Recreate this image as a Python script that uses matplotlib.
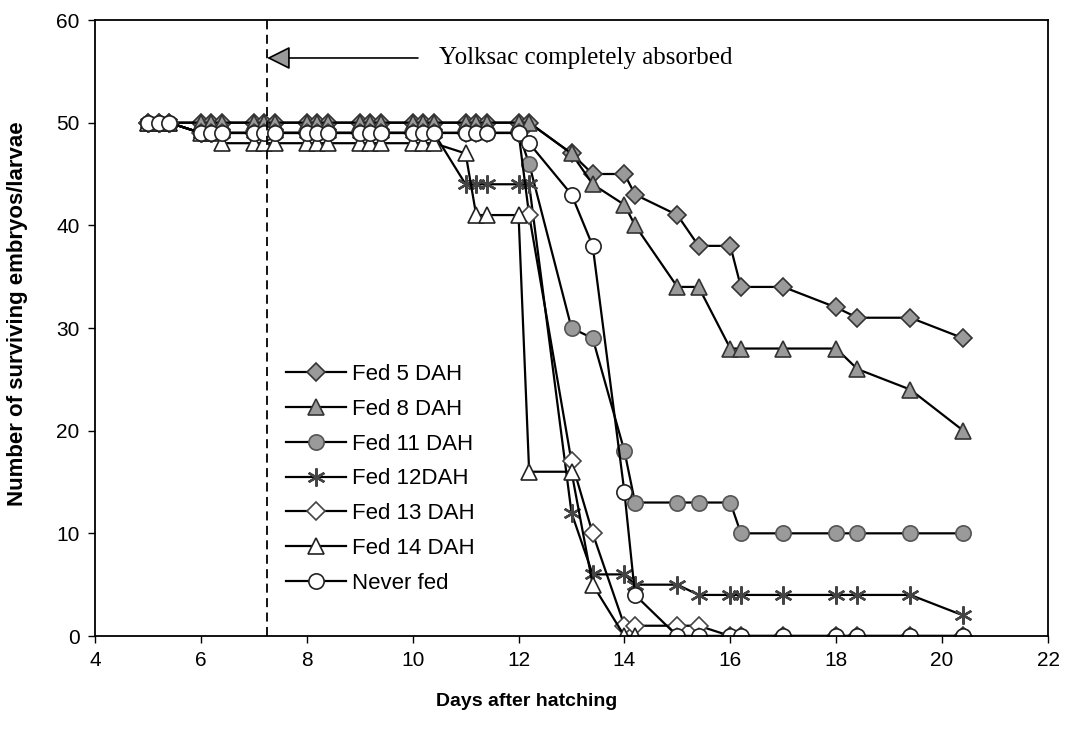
import matplotlib
matplotlib.use("Agg")
import matplotlib.pyplot as plt

# days after hatching (shared sampling days)
days = [5, 5.2, 5.4, 6, 6.2, 6.4, 7, 7.2, 7.4, 8, 8.2, 8.4, 9, 9.2, 9.4,
        10, 10.2, 10.4, 11, 11.2, 11.4, 12, 12.2, 13, 13.4, 14, 14.2,
        15, 15.4, 16, 16.2, 17, 18, 18.4, 19.4, 20.4]

fed5 = [50, 50, 50, 50, 50, 50, 50, 50, 50, 50, 50, 50, 50, 50, 50,
        50, 50, 50, 50, 50, 50, 50, 50, 47, 45, 45, 43,
        41, 38, 38, 34, 34, 32, 31, 31, 29]
fed8 = [50, 50, 50, 50, 50, 50, 50, 50, 50, 50, 50, 50, 50, 50, 50,
        50, 50, 50, 50, 50, 50, 50, 50, 47, 44, 42, 40,
        34, 34, 28, 28, 28, 28, 26, 24, 20]
fed11 = [50, 50, 50, 49, 49, 49, 49, 49, 49, 49, 49, 49, 49, 49, 49,
         49, 49, 49, 49, 49, 49, 49, 46, 30, 29, 18, 13,
         13, 13, 13, 10, 10, 10, 10, 10, 10]
fed12 = [50, 50, 50, 49, 49, 49, 49, 49, 49, 49, 49, 49, 49, 49, 49,
         49, 49, 49, 44, 44, 44, 44, 44, 12, 6, 6, 5,
         5, 4, 4, 4, 4, 4, 4, 4, 2]
fed13 = [50, 50, 50, 49, 49, 49, 49, 49, 49, 49, 49, 49, 49, 49, 49,
         49, 49, 49, 49, 49, 49, 49, 41, 17, 10, 1, 1,
         1, 1, 0, 0, 0, 0, 0, 0, 0]
fed14 = [50, 50, 50, 49, 49, 48, 48, 48, 48, 48, 48, 48, 48, 48, 48,
         48, 48, 48, 47, 41, 41, 41, 16, 16, 5, 0, 0,
         0, 0, 0, 0, 0, 0, 0, 0, 0]
never = [50, 50, 50, 49, 49, 49, 49, 49, 49, 49, 49, 49, 49, 49, 49,
         49, 49, 49, 49, 49, 49, 49, 48, 43, 38, 14, 4,
         0, 0, 0, 0, 0, 0, 0, 0, 0]

labels = ["Fed 5 DAH", "Fed 8 DAH", "Fed 11 DAH", "Fed 12DAH",
          "Fed 13 DAH", "Fed 14 DAH", "Never fed"]
yolk_day = 7.25

GREY = "#9a9a9a"
styles = [
    dict(marker="D", ms=9.5, mfc=GREY, mec="#333333"),
    dict(marker="^", ms=11.5, mfc=GREY, mec="#333333"),
    dict(marker="o", ms=11, mfc=GREY, mec="#555555"),
    dict(marker=(6, 2, 0), ms=13, mfc=GREY, mec="#444444", mew=1.7),
    dict(marker="D", ms=9, mfc="white", mec="#444444"),
    dict(marker="^", ms=11.5, mfc="white", mec="#222222"),
    dict(marker="o", ms=11, mfc="white", mec="#222222"),
]

plt.rcParams["font.family"] = ["Liberation Sans", "DejaVu Sans"]

fig = plt.figure(figsize=(10.68, 7.29), dpi=100)
ax = fig.add_axes([95 / 1068, 1 - 636 / 729, (1048 - 95) / 1068, (636 - 20) / 729])

series = [fed5, fed8, fed11, fed12, fed13, fed14, never]
for vals, lab, st in zip(series, labels, styles):
    ax.plot(days, vals, color="black", lw=1.6, label=lab, mew=st.pop("mew", 1.2), **st)

ax.axvline(yolk_day, color="black", ls=(0, (5, 3)), lw=1.3)

ax.annotate("", xy=(yolk_day, 56.3), xytext=(10.1, 56.3),
            arrowprops=dict(arrowstyle="-|>", mutation_scale=36, fc=GREY,
                            ec="black", lw=1.2, shrinkA=0, shrinkB=0))
ax.text(10.5, 56.3, "Yolksac completely absorbed", family="Liberation Serif",
        fontsize=18, va="center", ha="left")

ax.set_xlim(4, 22)
ax.set_ylim(0, 60)
ax.set_xticks(range(4, 23, 2))
ax.set_yticks(range(0, 61, 10))
ax.tick_params(direction="out", length=5, width=1, labelsize=15, pad=6)
for sp in ax.spines.values():
    sp.set_linewidth(1.3)
    sp.set_color("black")

fig.text(527 / 1068, 1 - 702 / 729, "Days after hatching", fontsize=14,
         fontweight="bold", ha="center", va="center")
fig.text(18 / 1068, 1 - 314 / 729, "Number of surviving embryos/larvae",
         fontsize=16, fontweight="bold", rotation=90, ha="center", va="center")

ax.legend(loc="upper left", bbox_to_anchor=(286 / 1068, 1 - 364 / 729),
          bbox_transform=fig.transFigure, frameon=False, fontsize=16,
          handlelength=2.7, handletextpad=0.25, borderpad=0, borderaxespad=0,
          labelspacing=0.62)

fig.savefig("out.png", dpi=100)
